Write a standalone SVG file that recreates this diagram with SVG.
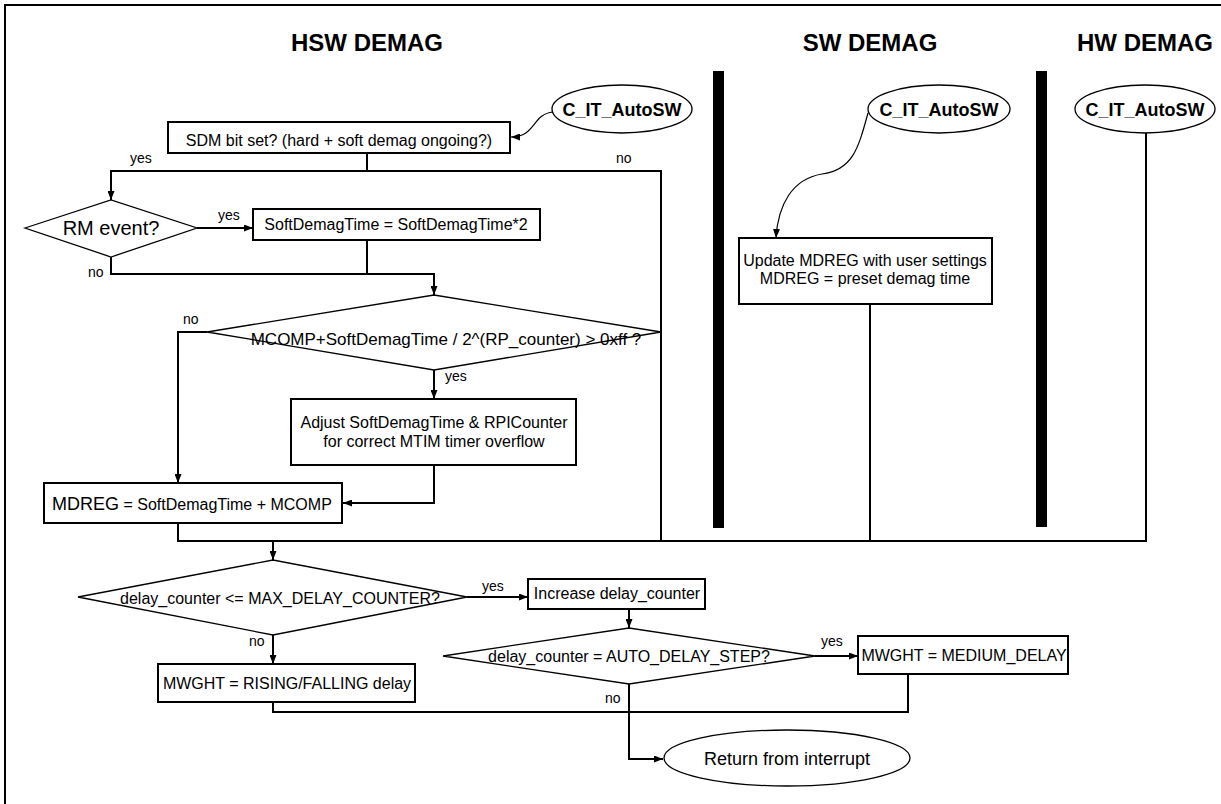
<svg xmlns="http://www.w3.org/2000/svg" width="1221" height="804" viewBox="0 0 1221 804">
<style>
text{font-family:"Liberation Sans",Arial,Helvetica,sans-serif;fill:#000}
.t{font-size:24px;font-weight:bold;text-anchor:middle}
.e{font-size:18px;font-weight:bold;text-anchor:middle}
.b{font-size:16px;text-anchor:middle}
.l{font-size:14px}
.box{fill:#fff;stroke:#000;stroke-width:2}
.dia{fill:#fff;stroke:#000;stroke-width:1.3}
.ell{fill:#fff;stroke:#000;stroke-width:1.3}
.c{fill:none;stroke:#000;stroke-width:2}
.cv{fill:none;stroke:#000;stroke-width:1.2}
.bar{fill:#000}
</style>
<defs>
<marker id="ah" markerWidth="9" markerHeight="7" refX="9" refY="3.5" orient="auto" markerUnits="userSpaceOnUse">
<path d="M0,0 L9,3.5 L0,7 z" fill="#000"/>
</marker>
</defs>
<rect width="1221" height="804" fill="#fff"/>
<path d="M5,804 V5 H1221" fill="none" stroke="#000" stroke-width="2"/>
<g id="titles">
<text class="t" x="367" y="51">HSW DEMAG</text>
<text class="t" x="870" y="51">SW DEMAG</text>
<text class="t" x="1145" y="51">HW DEMAG</text>
</g>
<g id="bars">
<rect class="bar" x="713" y="71" width="11" height="457"/>
<rect class="bar" x="1036" y="71" width="11" height="456"/>
</g>
<g id="connectors">
<path class="c" d="M367,153 V171"/>
<path class="c" d="M661,541 V171 H111 V200" marker-end="url(#ah)"/>
<path class="c" d="M197,228 H253" marker-end="url(#ah)"/>
<path class="c" d="M111,257 V274 H434 V295" marker-end="url(#ah)"/>
<path class="c" d="M367,240 V274"/>
<path class="c" d="M207,332 H178 V483" marker-end="url(#ah)"/>
<path class="c" d="M434,370 V399" marker-end="url(#ah)"/>
<path class="c" d="M434,465 V503 H343" marker-end="url(#ah)"/>
<path class="c" d="M178,523 V541 H1146 V133"/>
<path class="c" d="M870,304 V541"/>
<path class="c" d="M273,541 V560" marker-end="url(#ah)"/>
<path class="cv" d="M553,112 C532,114 536,137 511,137" marker-end="url(#ah)"/>
<path class="cv" d="M868,113 C858,150 852,170 822,174 C792,179 778,205 776,238" marker-end="url(#ah)"/>
<path class="c" d="M467,597 H528" marker-end="url(#ah)"/>
<path class="c" d="M273,635 V664" marker-end="url(#ah)"/>
<path class="c" d="M629,609 V628" marker-end="url(#ah)"/>
<path class="c" d="M815,656 H858" marker-end="url(#ah)"/>
<path class="c" d="M273,702 V712 H908 V674"/>
<path class="c" d="M629,684 V759 H663" marker-end="url(#ah)"/>
</g>
<g id="labels">
<text class="l" x="130" y="163">yes</text>
<text class="l" x="616" y="163">no</text>
<text class="l" x="218" y="220">yes</text>
<text class="l" x="88" y="277">no</text>
<text class="l" x="183" y="324">no</text>
<text class="l" x="445" y="381">yes</text>
<text class="l" x="482" y="591">yes</text>
<text class="l" x="249" y="646">no</text>
<text class="l" x="821" y="646">yes</text>
<text class="l" x="605" y="703">no</text>
</g>
<g id="start-hsw">
<ellipse class="ell" cx="622" cy="109" rx="70" ry="24"/>
<text class="e" x="622" y="116">C_IT_AutoSW</text>
</g>
<g id="start-sw">
<ellipse class="ell" cx="939" cy="109" rx="71" ry="24"/>
<text class="e" x="939" y="116">C_IT_AutoSW</text>
</g>
<g id="start-hw">
<ellipse class="ell" cx="1145" cy="109" rx="70" ry="24"/>
<text class="e" x="1145" y="116">C_IT_AutoSW</text>
</g>
<g id="sdm">
<rect class="box" x="168" y="122" width="342" height="31"/>
<text class="b" x="339" y="146">SDM bit set? (hard + soft demag ongoing?)</text>
</g>
<g id="rm">
<polygon class="dia" points="25,228 111,200 197,228 111,257"/>
<text x="111" y="235" style="font-size:20px;text-anchor:middle">RM event?</text>
</g>
<g id="softx2">
<rect class="box" x="253" y="209" width="287" height="31"/>
<text class="b" x="396" y="230">SoftDemagTime = SoftDemagTime*2</text>
</g>
<g id="mcomp">
<polygon class="dia" points="207,332 434,295 661,332 434,370"/>
<text class="b" x="446" y="345" style="font-size:17px">MCOMP+SoftDemagTime / 2^(RP_counter) &gt; 0xff ?</text>
</g>
<g id="adjust">
<rect class="box" x="291" y="399" width="285" height="66"/>
<text class="b" x="434" y="428">Adjust SoftDemagTime &amp; RPICounter</text>
<text class="b" x="434" y="447">for correct MTIM timer overflow</text>
</g>
<g id="mdreg">
<rect class="box" x="44" y="483" width="298" height="40"/>
<text x="52" y="510" style="font-size:18px">MDREG<tspan style="font-size:16px"> = SoftDemagTime + MCOMP</tspan></text>
</g>
<g id="update">
<rect class="box" x="739" y="238" width="253" height="66"/>
<text class="b" x="865" y="266">Update MDREG with user settings</text>
<text class="b" x="865" y="284">MDREG = preset demag time</text>
</g>
<g id="delay-max">
<polygon class="dia" points="78,597 273,560 467,597 273,635"/>
<text class="b" x="280" y="604">delay_counter &lt;= MAX_DELAY_COUNTER?</text>
</g>
<g id="increase">
<rect class="box" x="528" y="579" width="177" height="30"/>
<text class="b" x="617" y="599">Increase delay_counter</text>
</g>
<g id="delay-step">
<polygon class="dia" points="443,656 629,628 815,656 629,684"/>
<text class="b" x="629" y="662">delay_counter = AUTO_DELAY_STEP?</text>
</g>
<g id="medium">
<rect class="box" x="858" y="636" width="210" height="38"/>
<text class="b" x="964" y="661">MWGHT = MEDIUM_DELAY</text>
</g>
<g id="rising">
<rect class="box" x="158" y="664" width="257" height="38"/>
<text class="b" x="287" y="689">MWGHT = RISING/FALLING delay</text>
</g>
<g id="return">
<ellipse class="ell" cx="787" cy="758" rx="123" ry="28"/>
<text x="787" y="765" style="font-size:18px;text-anchor:middle">Return from interrupt</text>
</g>
</svg>
